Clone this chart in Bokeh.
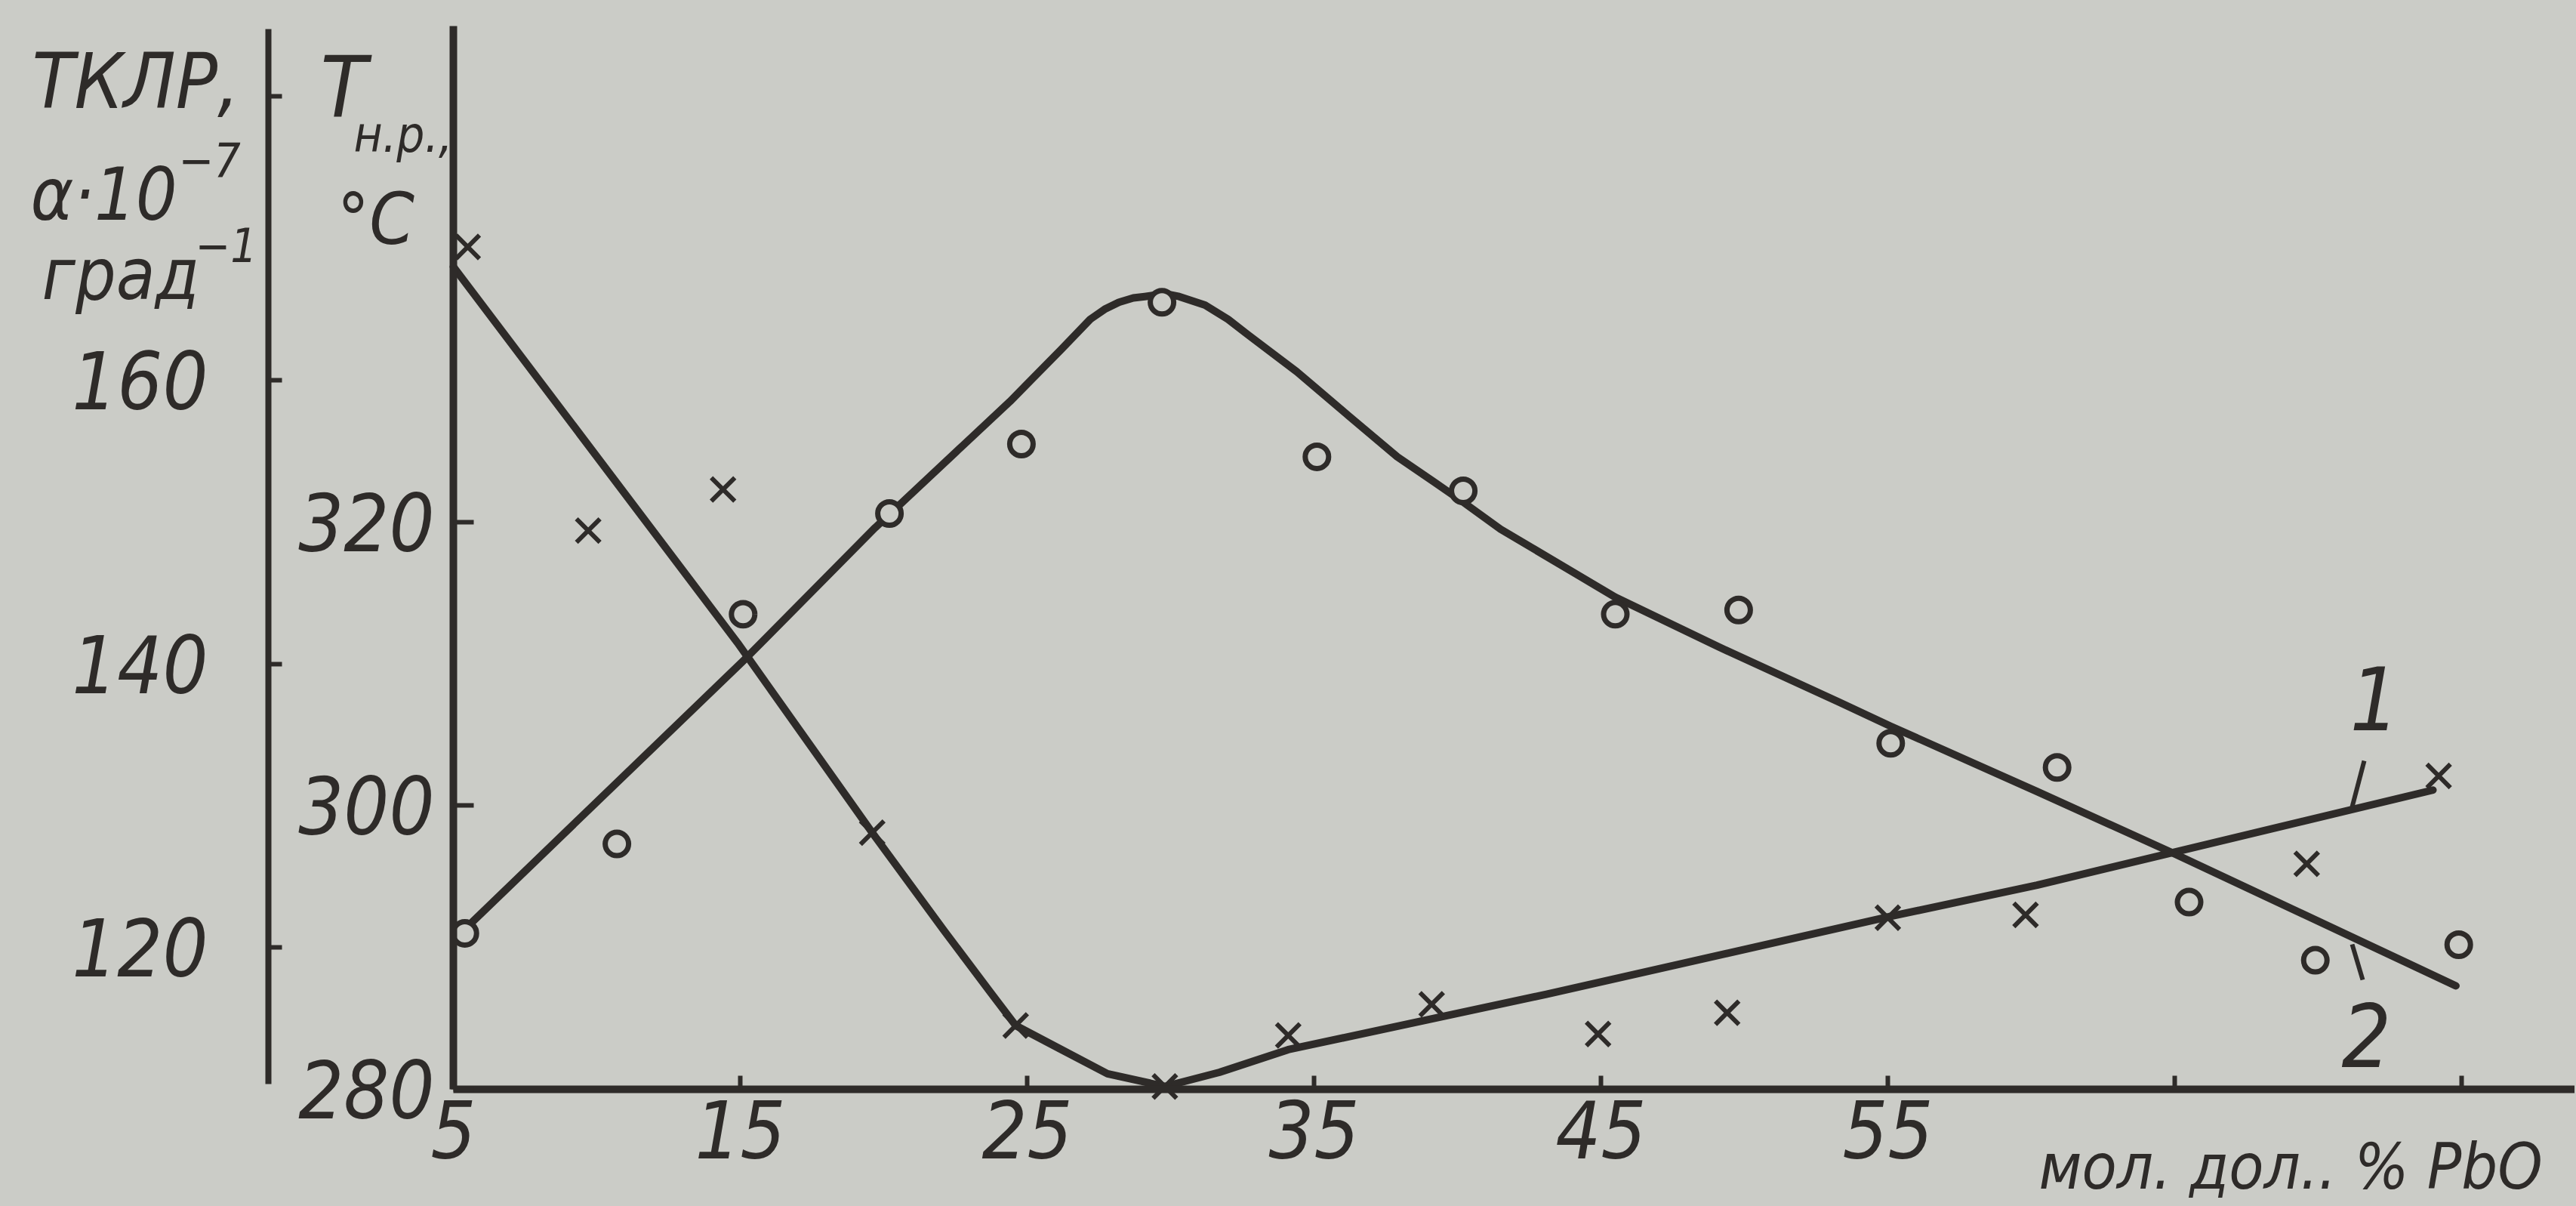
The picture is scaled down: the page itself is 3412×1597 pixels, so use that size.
from bokeh.plotting import figure
from bokeh.models import Range1d, LinearAxis, FixedTicker, Label
from bokeh.embed import file_html
from bokeh.resources import INLINE

# ---------------- data ----------------
x_ticks = [5, 15, 25, 35, 45, 55, 65, 75]
x_label_overrides = {65: "", 75: ""}
t_ticks = [280, 300, 320]                 # Т н.р., °C (inner axis)
tklr_ticks = [120, 140, 160, 180]          # ТКЛР, α·10^-7 град^-1 (outer axis)
tklr_label_overrides = {180: ""}

# curve 1 : ТКЛР (x markers)
c1_pts_x = [5.5, 9.7, 14.4, 19.6, 24.6, 29.8, 34.1, 39.1, 44.9, 49.4, 55.0, 59.8, 69.6, 74.2]
c1_pts_y = [169.4, 149.4, 152.3, 128.1, 114.5, 110.2, 113.8, 116.0, 113.9, 115.4, 122.1, 122.3, 125.9, 132.1]
c1_fit_x = [5.0, 14.9, 19.6, 22.1, 23.7, 24.6, 26.1, 27.8, 29.8, 31.7, 34.1, 43.1, 55.1, 60.2, 74.0]
c1_fit_y = [168.0, 141.5, 128.1, 121.2, 116.9, 114.5, 112.9, 111.1, 110.2, 111.2, 112.8, 116.7, 122.2, 124.4, 131.1]

# curve 2 : Т н.р. (circles)
c2_pts_x = [5.4, 10.7, 15.1, 20.2, 24.8, 29.7, 35.1, 40.2, 45.5, 49.8, 55.1, 60.9, 65.5, 69.9, 74.9]
c2_pts_y = [291.0, 297.3, 313.5, 320.6, 325.5, 335.5, 324.6, 322.2, 313.5, 313.8, 304.4, 302.7, 293.2, 289.1, 290.2]
c2_fit_x = [5.3, 15.2, 19.7, 24.4, 26.2, 27.2, 27.7, 28.2, 28.7, 29.1, 29.8, 30.3, 31.2, 32.0, 32.7,
            34.4, 36.2, 37.9, 39.2, 40.2, 41.5, 45.5, 49.1, 53.3, 55.1, 60.2, 65.0, 74.8]
c2_fit_y = [291.1, 310.4, 319.6, 328.5, 332.2, 334.3, 335.0, 335.5, 335.8, 335.9, 336.1, 335.9, 335.3, 334.3, 333.2,
            330.6, 327.5, 324.6, 322.8, 321.4, 319.5, 314.7, 311.2, 307.3, 305.6, 301.0, 296.6, 287.3]

# ---------------- layout / style ----------------
BG = "#cbccc7"
INK = "#2e2b29"
FONT = "DejaVu Sans Condensed, Liberation Sans, sans-serif"
W, H = 3410, 1595
X0_PX, PX_X = 600, 38.0     # page px of x = 5, px per unit
T0_PX, PX_T = 1442, 18.78   # page px of T = 280, px per degree
TKLR_OFFSET = 170           # ТКЛР = T - 170 on the drawing


def dx(px):
    return 5 + (px - X0_PX) / PX_X


def dy(py):
    return 280 + (T0_PX - py) / PX_T


p = figure(width=W, height=H, output_backend="svg", toolbar_location=None,
           x_axis_location=None, y_axis_location=None,
           x_range=Range1d(dx(0), dx(W)), y_range=Range1d(dy(H), dy(0)),
           min_border_left=0, min_border_right=0, min_border_top=0, min_border_bottom=0)
p.extra_y_ranges = {"tklr": Range1d(dy(H) - TKLR_OFFSET, dy(0) - TKLR_OFFSET)}
p.background_fill_color = BG
p.border_fill_color = BG
p.outline_line_color = None
p.xgrid.visible = False
p.ygrid.visible = False


def style_axis(ax, size, standoff, tick_in, width):
    ax.axis_line_color = INK
    ax.axis_line_width = width
    ax.major_tick_line_color = INK
    ax.major_tick_line_width = 6
    ax.major_tick_in = tick_in
    ax.major_tick_out = 0
    ax.minor_tick_line_color = None
    ax.major_label_text_font = FONT
    ax.major_label_text_font_style = "italic"
    ax.major_label_text_font_size = size
    ax.major_label_text_color = INK
    ax.major_label_standoff = standoff


xa = LinearAxis(fixed_location=280, bounds=(5, dx(W)),
                ticker=FixedTicker(ticks=x_ticks), major_label_overrides=x_label_overrides)
style_axis(xa, "105px", 14, 18, 10)
p.add_layout(xa, "below")

ya = LinearAxis(fixed_location=5, bounds=(280, dy(34)), ticker=FixedTicker(ticks=t_ticks))
style_axis(ya, "105px", 25, 27, 10)
p.add_layout(ya, "left")

ya2 = LinearAxis(y_range_name="tklr", fixed_location=dx(355),
                 bounds=(dy(1435) - TKLR_OFFSET, dy(38) - TKLR_OFFSET),
                 ticker=FixedTicker(ticks=tklr_ticks), major_label_overrides=tklr_label_overrides)
style_axis(ya2, "105px", 80, 18, 8)
p.add_layout(ya2, "left")

# ---------------- marks ----------------
p.line(c1_fit_x, c1_fit_y, y_range_name="tklr", line_color=INK, line_width=10,
       line_join="round", line_cap="round")
p.line(c2_fit_x, c2_fit_y, line_color=INK, line_width=10, line_join="round", line_cap="round")
p.scatter(c2_pts_x, c2_pts_y, marker="circle", size=31, fill_color=BG, line_color=INK, line_width=7)
p.scatter(c1_pts_x, c1_pts_y, marker="x", size=44, line_color=INK, line_width=6, y_range_name="tklr")


def lab(text, px, py, size, align="left"):
    # py = vertical centre of the text
    p.add_layout(Label(x=dx(px), y=dy(py), text=text, text_font=FONT, text_font_style="italic",
                       text_font_size=size, text_color=INK, text_align=align,
                       text_baseline="middle"))


# axis titles
lab("ТКЛР,", 42, 107, "102px")
lab("α·10", 40, 257, "96px")
lab("−7", 236, 210, "62px")
lab("град", 55, 363, "94px")
lab("−1", 258, 323, "62px")
lab("Т", 424, 115, "112px")
lab("н.р.,", 468, 178, "65px")
lab("°C", 446, 289, "95px")
lab("мол. дол.. % PbO", 2700, 1544, "84px")
# curve numbers
lab("1", 3145, 924, "115px", "center")
lab("2", 3134, 1370, "115px", "center")
p.segment(x0=[dx(3115), dx(3115)], y0=[dy(1068), dy(1250)],
          x1=[dx(3131), dx(3129)], y1=[dy(1007), dy(1297)], line_color=INK, line_width=6)

html = file_html(p, INLINE)
html = html.replace("</head>", "<style>html,body{background:%s;}</style></head>" % BG, 1)
open("out.html", "w").write(html)
